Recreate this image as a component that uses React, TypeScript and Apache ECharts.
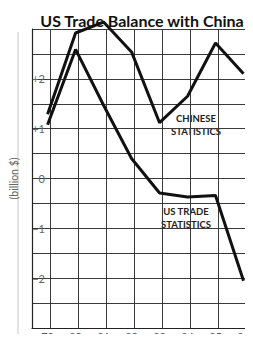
import React, { useEffect, useRef } from "react";
import * as echarts from "echarts";

const years = [79, 80, 81, 82, 83, 84, 85, 86];
const chineseStats = [1.29, 2.92, 3.14, 2.54, 1.12, 1.65, 2.72, 2.1];
const usTradeStats = [1.08, 2.59, 1.47, 0.4, -0.29, -0.37, -0.34, -2.05];
const chineseLabel = "CHINESE\nSTATISTICS";
const usLabel = "US TRADE\nSTATISTICS";

export default function App() {
  const ref = useRef<HTMLDivElement>(null);
  useEffect(() => {
    const chart = echarts.init(ref.current!, null, { renderer: "svg" });
    const isInt = (v: number) => Math.abs(v - Math.round(v)) < 1e-6;
    const fmtY = (v: number) => {
      if (!isInt(v)) return "";
      const r = Math.round(v);
      if (Math.abs(r) >= 3) return "";
      if (r === 0) return "0";
      return r > 0 ? "+" + r : "\u2212" + Math.abs(r);
    };
    const gridColor = "#3a3a3a";
    chart.setOption({
      animation: false,
      textStyle: { fontFamily: "Lato" },
      title: {
        text: "US Trade Balance with China",
        left: 137,
        textAlign: "center",
        top: 7,
        textStyle: { fontFamily: "Lato", fontWeight: "bold", fontSize: 16, color: "#111" },
      },
      grid: { left: 26, right: 0, top: 29, bottom: 9, containLabel: false },
      xAxis: [
        {
          type: "value",
          min: 78.443,
          max: 86.339,
          splitNumber: 7,
          axisLine: { show: true, onZero: false, lineStyle: { color: "#222", width: 1.2 } },
          axisTick: { show: false },
          axisLabel: {
            color: "#555",
            fontSize: 11,
            margin: 3,
            showMinLabel: false,
            showMaxLabel: false,
            formatter: (v: number) => (isInt(v) ? String(Math.round(v)) : ""),
          },
          splitLine: { show: false },
        },
        {
          type: "value",
          position: "bottom",
          min: 78.339,
          max: 86.235,
          splitNumber: 7,
          axisLine: { show: false },
          axisTick: { show: false },
          axisLabel: { show: false },
          splitLine: { show: true, showMinLine: false, showMaxLine: false, lineStyle: { color: gridColor, width: 1 } },
        },
      ],
      yAxis: {
        type: "value",
        min: -3,
        max: 3,
        interval: 0.5,
        name: "(billion $)",
        nameLocation: "middle",
        nameGap: 13,
        nameTextStyle: { color: "#666", fontSize: 10.5, fontFamily: "Lato" },
        axisLine: { show: true, onZero: false, lineStyle: { color: "#222", width: 1.2 } },
        axisTick: { show: false },
        axisLabel: { color: "#666", fontSize: 11, margin: -13, formatter: fmtY },
        splitLine: { show: true, lineStyle: { color: gridColor, width: 1 } },
      },
      series: [
        {
          name: "Chinese statistics",
          type: "line",
          xAxisIndex: 0,
          data: years.map((y, i) => [y, chineseStats[i]]),
          symbol: "none",
          clip: false,
          lineStyle: { color: "#111", width: 3 },
        },
        {
          name: "US trade statistics",
          type: "line",
          xAxisIndex: 0,
          data: years.map((y, i) => [y, usTradeStats[i]]),
          symbol: "none",
          clip: false,
          lineStyle: { color: "#111", width: 3 },
        },
      ],
      graphic: [
        {
          type: "line",
          shape: { x1: 18, y1: 32, x2: 18, y2: 342 },
          style: { stroke: "#c8c8c8", lineWidth: 1 },
        },
        {
          type: "text",
          x: 196,
          y: 112,
          style: {
            text: chineseLabel,
            align: "center",
            fill: "#222",
            fontSize: 9.5,
            fontWeight: "bold",
            fontFamily: "Lato",
            lineHeight: 13,
          },
        },
        {
          type: "text",
          x: 186,
          y: 205,
          style: {
            text: usLabel,
            align: "center",
            fill: "#222",
            fontSize: 9.5,
            fontWeight: "bold",
            fontFamily: "Lato",
            lineHeight: 13,
          },
        },
      ],
    });
    return () => chart.dispose();
  }, []);
  return <div ref={ref} style={{ width: 253, height: 342, margin: -8 }} />;
}
